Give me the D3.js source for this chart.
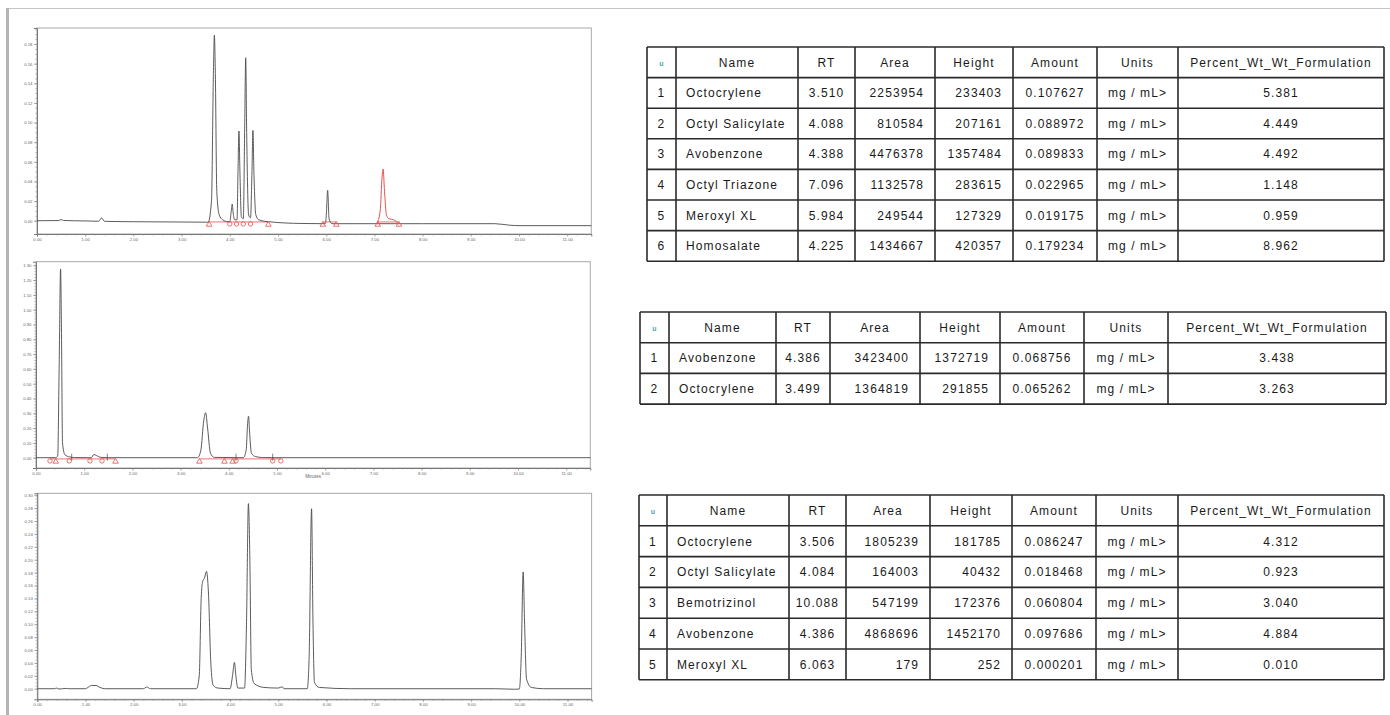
<!DOCTYPE html>
<html><head><meta charset="utf-8">
<script src="https://cdn.jsdelivr.net/npm/d3@7"></script>
<style>
html,body{margin:0;padding:0;background:#fff;}
svg{display:block;}
</style></head><body>
<svg id="c" width="1390" height="715"></svg>
<script>
// ---------- chromatogram data (minutes, AU) ----------
const timeTicks = [0,1,2,3,4,5,6,7,8,9,10,11];

const trace1 = [[0,0.0000],[0.45,0.0002],[0.50,0.0012],[0.55,0.0003],[1.00,-0.0002],[1.28,-0.0005],[1.34,0.0028],[1.40,-0.0006],
  [2.00,-0.0010],[3.00,-0.0013],[3.55,-0.0015],[3.62,0.020],[3.66,0.150],[3.68,0.189],[3.70,0.150],[3.73,0.030],[3.78,0.006],
  [3.85,0.001],[3.96,-0.001],[4.00,-0.001],[4.03,0.010],[4.05,0.017],[4.07,0.008],[4.10,0.001],[4.15,0.001],[4.17,0.050],
  [4.19,0.0914],[4.21,0.050],[4.24,0.004],[4.28,0.002],[4.31,0.100],[4.33,0.166],[4.35,0.090],[4.39,0.006],[4.43,0.003],
  [4.46,0.050],[4.48,0.092],[4.50,0.050],[4.54,0.006],[4.60,0.001],[4.80,-0.001],[5.50,-0.0028],[5.98,-0.003],[6.00,0.004],
  [6.03,0.031],[6.06,0.002],[6.12,-0.003],[7.05,-0.003],[7.50,-0.003],[8.00,-0.003],[9.50,-0.003],[9.80,-0.0045],[10.00,-0.005],[11.50,-0.005]];
const trace1Red = [[7.05,-0.003],[7.12,0.010],[7.16,0.045],[7.18,0.0527],[7.21,0.030],[7.25,0.006],[7.30,0.002],[7.40,0.001],[7.50,-0.003]];
const base1 = [[3.57,4.80],[5.93,6.21],[7.07,7.51]];
const marks1 = [[3.57,"t"],[4.00,"c"],[4.14,"c"],[4.28,"c"],[4.43,"c"],[4.80,"t"],[5.93,"t"],[6.21,"t"],[7.07,"t"],[7.51,"t"]];
const yTicks1 = [0.00,0.02,0.04,0.06,0.08,0.10,0.12,0.14,0.16,0.18];

const trace2 = [[0,0],[0.40,0],[0.45,0.010],[0.48,0.600],[0.51,1.275],[0.53,0.800],[0.55,0.100],[0.60,0.020],[0.70,0.005],
  [0.80,0.001],[1.15,0.000],[1.20,0.022],[1.25,0.015],[1.35,0.002],[1.50,0],[3.35,0],[3.42,0.050],[3.48,0.250],[3.52,0.304],
  [3.56,0.200],[3.62,0.030],[3.70,0.002],[4.30,0],[4.36,0.050],[4.39,0.230],[4.41,0.280],[4.43,0.180],[4.47,0.030],
  [4.55,0.008],[4.70,0.001],[5.00,0],[11.50,0]];
const base2 = [[0.29,1.65],[3.39,5.08]];
const marks2 = [[0.29,"c"],[0.41,"t"],[0.69,"c"],[1.12,"c"],[1.37,"c"],[1.65,"t"],[3.39,"t"],[3.91,"t"],[4.08,"t"],[4.15,"c"],[4.91,"c"],[5.08,"c"]];
const drops2 = [0.74,1.48,4.15,4.91];
const yTicks2 = [0.00,0.10,0.20,0.30,0.40,0.50,0.60,0.70,0.80,0.90,1.00,1.10,1.20,1.30];

const trace3 = [[0,0],[0.35,0],[0.40,0.001],[0.45,-0.0005],[0.60,0.0005],[0.65,0],[1.00,0],[1.05,0.002],[1.12,0.005],
  [1.22,0.005],[1.30,0.002],[1.40,0],[2.20,0],[2.27,0.0026],[2.35,0],[3.30,0],[3.36,0.020],[3.40,0.140],[3.43,0.166],
  [3.47,0.172],[3.51,0.182],[3.55,0.150],[3.60,0.040],[3.65,0.005],[3.75,0.001],[4.00,0],[4.05,0.020],[4.09,0.0408],
  [4.12,0.020],[4.16,0.001],[4.30,0.001],[4.34,0.100],[4.38,0.287],[4.41,0.200],[4.44,0.030],[4.50,0.008],[4.70,0.002],
  [5.00,0.001],[5.08,0.003],[5.12,0],[5.60,0],[5.64,0.050],[5.69,0.279],[5.72,0.100],[5.75,0.010],[5.85,0.002],[6.50,0],
  [9.50,0],[9.90,-0.0008],[10.00,-0.0005],[10.04,0.050],[10.08,0.181],[10.11,0.100],[10.15,0.015],[10.25,0.002],[10.50,0],[11.50,0]];
const yTicks3 = [0.00,0.02,0.04,0.06,0.08,0.10,0.12,0.14,0.16,0.18,0.20,0.22,0.24,0.26,0.28,0.30];

// ---------- results tables ----------
const headers = ["", "Name", "RT", "Area", "Height", "Amount", "Units", "Percent_Wt_Wt_Formulation"];

const names1 = ["Octocrylene","Octyl Salicylate","Avobenzone","Octyl Triazone","Meroxyl XL","Homosalate"];
const rt1 = ["3.510","4.088","4.388","7.096","5.984","4.225"];
const area1 = [2253954,810584,4476378,1132578,249544,1434667];
const height1 = [233403,207161,1357484,283615,127329,420357];
const amount1 = ["0.107627","0.088972","0.089833","0.022965","0.019175","0.179234"];
const pct1 = ["5.381","4.449","4.492","1.148","0.959","8.962"];

const names2 = ["Avobenzone","Octocrylene"];
const rt2 = ["4.386","3.499"];
const area2 = [3423400,1364819];
const height2 = [1372719,291855];
const amount2 = ["0.068756","0.065262"];
const pct2 = ["3.438","3.263"];

const names3 = ["Octocrylene","Octyl Salicylate","Bemotrizinol","Avobenzone","Meroxyl XL"];
const rt3 = ["3.506","4.084","10.088","4.386","6.063"];
const area3 = [1805239,164003,547199,4868696,179];
const height3 = [181785,40432,172376,1452170,252];
const amount3 = ["0.086247","0.018468","0.060804","0.097686","0.000201"];
const pct3 = ["4.312","0.923","3.040","4.884","0.010"];
const units = "mg / mL>";

const svg = d3.select("#c");

// page frame
svg.append("line").attr("x1",8).attr("x2",1390).attr("y1",8.5).attr("y2",8.5).attr("stroke","#c4c4c4").attr("stroke-width",1);
svg.append("rect").attr("x",6).attr("y",8).attr("width",3).attr("height",707).attr("fill","#b4b4b4");

// ---------- chromatograms ----------
const panels = [
  {trace: trace1, red: [trace1Red], base: base1, marks: marks1, drops: [], yTicks: yTicks1, minor: 0.005,
   dom: [-0.0135, 0.1963], top: 28, bottom: 234, left: 37},
  {trace: trace2, red: [], base: base2, marks: marks2, drops: drops2, yTicks: yTicks2, minor: 0.02,
   dom: [-0.0696, 1.324], top: 261.7, bottom: 468, left: 36, xlabel: "Minutes"},
  {trace: trace3, red: [], base: [], marks: [], drops: [], yTicks: yTicks3, minor: 0.005,
   dom: [-0.0164, 0.303], top: 493.3, bottom: 699.3, left: 37.3}
];

const fmt2 = d3.format(".2f");
const redCol = "#e8504f";

panels.forEach(p => {
  const x = d3.scaleLinear().domain([0, 11.5]).range([p.left, p.left + 11.5 * 48.2]);
  const y = d3.scaleLinear().domain(p.dom).range([p.bottom, p.top]);
  const g = svg.append("g");
  const right = x(11.5);

  // frame
  g.append("rect").attr("x", p.left).attr("y", p.top).attr("width", right - p.left).attr("height", p.bottom - p.top)
    .attr("fill", "none").attr("stroke", "#a8a8a8").attr("stroke-width", 1);

  // y axis
  const ya = g.append("g").attr("transform", `translate(${p.left},0)`)
    .call(d3.axisLeft(y).tickValues(p.yTicks).tickSize(3).tickPadding(1.5).tickFormat(fmt2));
  ya.select(".domain").attr("stroke", "#777");
  ya.selectAll("line").attr("stroke", "#777").attr("stroke-width", 0.6);
  ya.selectAll("text").attr("font-size", 4.3).attr("fill", "#666").attr("font-family", "Liberation Sans, Arial, sans-serif");
  const yMinor = d3.range(0, p.dom[1], p.minor).filter(v => y(v) > p.top + 1);
  g.append("g").attr("transform", `translate(${p.left},0)`)
    .call(d3.axisLeft(y).tickValues(yMinor).tickSize(1.8).tickFormat(""))
    .call(s => { s.select(".domain").remove(); s.selectAll("line").attr("stroke", "#888").attr("stroke-width", 0.5); });

  // x axis
  const xa = g.append("g").attr("transform", `translate(0,${p.bottom})`)
    .call(d3.axisBottom(x).tickValues(timeTicks).tickSize(2.5).tickPadding(1).tickFormat(fmt2));
  xa.select(".domain").attr("stroke", "#777");
  xa.selectAll("line").attr("stroke", "#777").attr("stroke-width", 0.6);
  xa.selectAll("text").attr("font-size", 4.3).attr("fill", "#666").attr("font-family", "Liberation Sans, Arial, sans-serif");
  g.append("g").attr("transform", `translate(0,${p.bottom})`)
    .call(d3.axisBottom(x).tickValues(d3.range(0, 11.5, 0.2)).tickSize(1.6).tickFormat(""))
    .call(s => { s.select(".domain").remove(); s.selectAll("line").attr("stroke", "#888").attr("stroke-width", 0.5); });

  if (p.xlabel) {
    g.append("text").attr("x", (p.left + right) / 2).attr("y", p.bottom + 9.5).attr("text-anchor", "middle")
      .attr("font-size", 4.5).attr("fill", "#666").attr("font-family", "Liberation Sans, Arial, sans-serif").text(p.xlabel);
  }

  const line = d3.line().x(d => x(d[0])).y(d => y(d[1])).curve(d3.curveMonotoneX);

  // integration baselines
  p.base.forEach(b => {
    g.append("line").attr("x1", x(b[0])).attr("x2", x(b[1])).attr("y1", y(0) + 1.2).attr("y2", y(0) + 1.2)
      .attr("stroke", redCol).attr("stroke-width", 0.8);
  });

  // detector trace
  g.append("path").datum(p.trace).attr("d", line).attr("fill", "none").attr("stroke", "#4a4a4a").attr("stroke-width", 0.9);
  p.red.forEach(r => {
    g.append("path").datum(r).attr("d", line).attr("fill", "none").attr("stroke", redCol).attr("stroke-width", 1);
  });

  // peak drop lines
  p.drops.forEach(t => {
    g.append("line").attr("x1", x(t)).attr("x2", x(t)).attr("y1", y(0) - 4).attr("y2", y(0) + 3)
      .attr("stroke", "#333").attr("stroke-width", 0.6);
  });

  // peak start / end markers
  p.marks.forEach(m => {
    const cx = x(m[0]), cy = y(0) + 3.2;
    if (m[1] === "t") {
      g.append("path").attr("d", `M${cx - 2.8},${cy + 2.3}L${cx + 2.8},${cy + 2.3}L${cx},${cy - 2.5}Z`)
        .attr("fill", "none").attr("stroke", redCol).attr("stroke-width", 0.8);
    } else {
      g.append("circle").attr("cx", cx).attr("cy", cy).attr("r", 2.2)
        .attr("fill", "none").attr("stroke", redCol).attr("stroke-width", 0.8);
    }
  });
});

// ---------- tables ----------
function drawTable(cols, top, rowH, names, rt, area, height, amount, pct) {
  const g = svg.append("g").attr("font-family", "Liberation Sans, Arial, sans-serif").attr("font-size", 12)
    .attr("fill", "#1a1a1a").style("letter-spacing", "1.1px");
  const nRows = names.length + 1;
  const rows = d3.range(nRows + 1).map(i => top + i * rowH);
  // grid
  rows.forEach(yv => g.append("line").attr("x1", cols[0]).attr("x2", cols[cols.length - 1]).attr("y1", yv).attr("y2", yv)
    .attr("stroke", "#2a2a2a").attr("stroke-width", 1.6));
  cols.forEach(xv => g.append("line").attr("x1", xv).attr("x2", xv).attr("y1", rows[0]).attr("y2", rows[nRows])
    .attr("stroke", "#2a2a2a").attr("stroke-width", 1.6));

  const mid = i => (cols[i] + cols[i + 1]) / 2;
  const cy = r => (rows[r] + rows[r + 1]) / 2 + 4.3;

  // header
  headers.forEach((h, i) => {
    if (i === 0) {
      g.append("text").attr("x", mid(0)).attr("y", cy(0) - 1).attr("text-anchor", "middle").attr("font-size", 7)
        .attr("font-weight", "bold").attr("fill", "#4f9fb4").style("letter-spacing", "0px").text("u");
    } else {
      g.append("text").attr("x", mid(i)).attr("y", cy(0)).attr("text-anchor", "middle").text(h);
    }
  });
  const fmtInt = d3.format("d");
  names.forEach((n, k) => {
    const r = k + 1;
    g.append("text").attr("x", mid(0)).attr("y", cy(r)).attr("text-anchor", "middle").text(r);
    g.append("text").attr("x", cols[1] + 10).attr("y", cy(r)).text(n);
    g.append("text").attr("x", mid(2)).attr("y", cy(r)).attr("text-anchor", "middle").text(rt[k]);
    g.append("text").attr("x", cols[4] - 11).attr("y", cy(r)).attr("text-anchor", "end").text(fmtInt(area[k]));
    g.append("text").attr("x", cols[5] - 11).attr("y", cy(r)).attr("text-anchor", "end").text(fmtInt(height[k]));
    g.append("text").attr("x", mid(5)).attr("y", cy(r)).attr("text-anchor", "middle").text(amount[k]);
    g.append("text").attr("x", mid(6)).attr("y", cy(r)).attr("text-anchor", "middle").text(units);
    g.append("text").attr("x", mid(7)).attr("y", cy(r)).attr("text-anchor", "middle").text(pct[k]);
  });
}

drawTable([647, 676, 798, 855, 935, 1013, 1097, 1178, 1384], 47, 30.6, names1, rt1, area1, height1, amount1, pct1);
drawTable([640, 669, 776, 830, 920, 1000, 1084, 1168, 1386], 312, 30.7, names2, rt2, area2, height2, amount2, pct2);
drawTable([639, 667, 789, 846, 930, 1012, 1096, 1178, 1384], 495, 30.8, names3, rt3, area3, height3, amount3, pct3);
</script>
</body></html>
